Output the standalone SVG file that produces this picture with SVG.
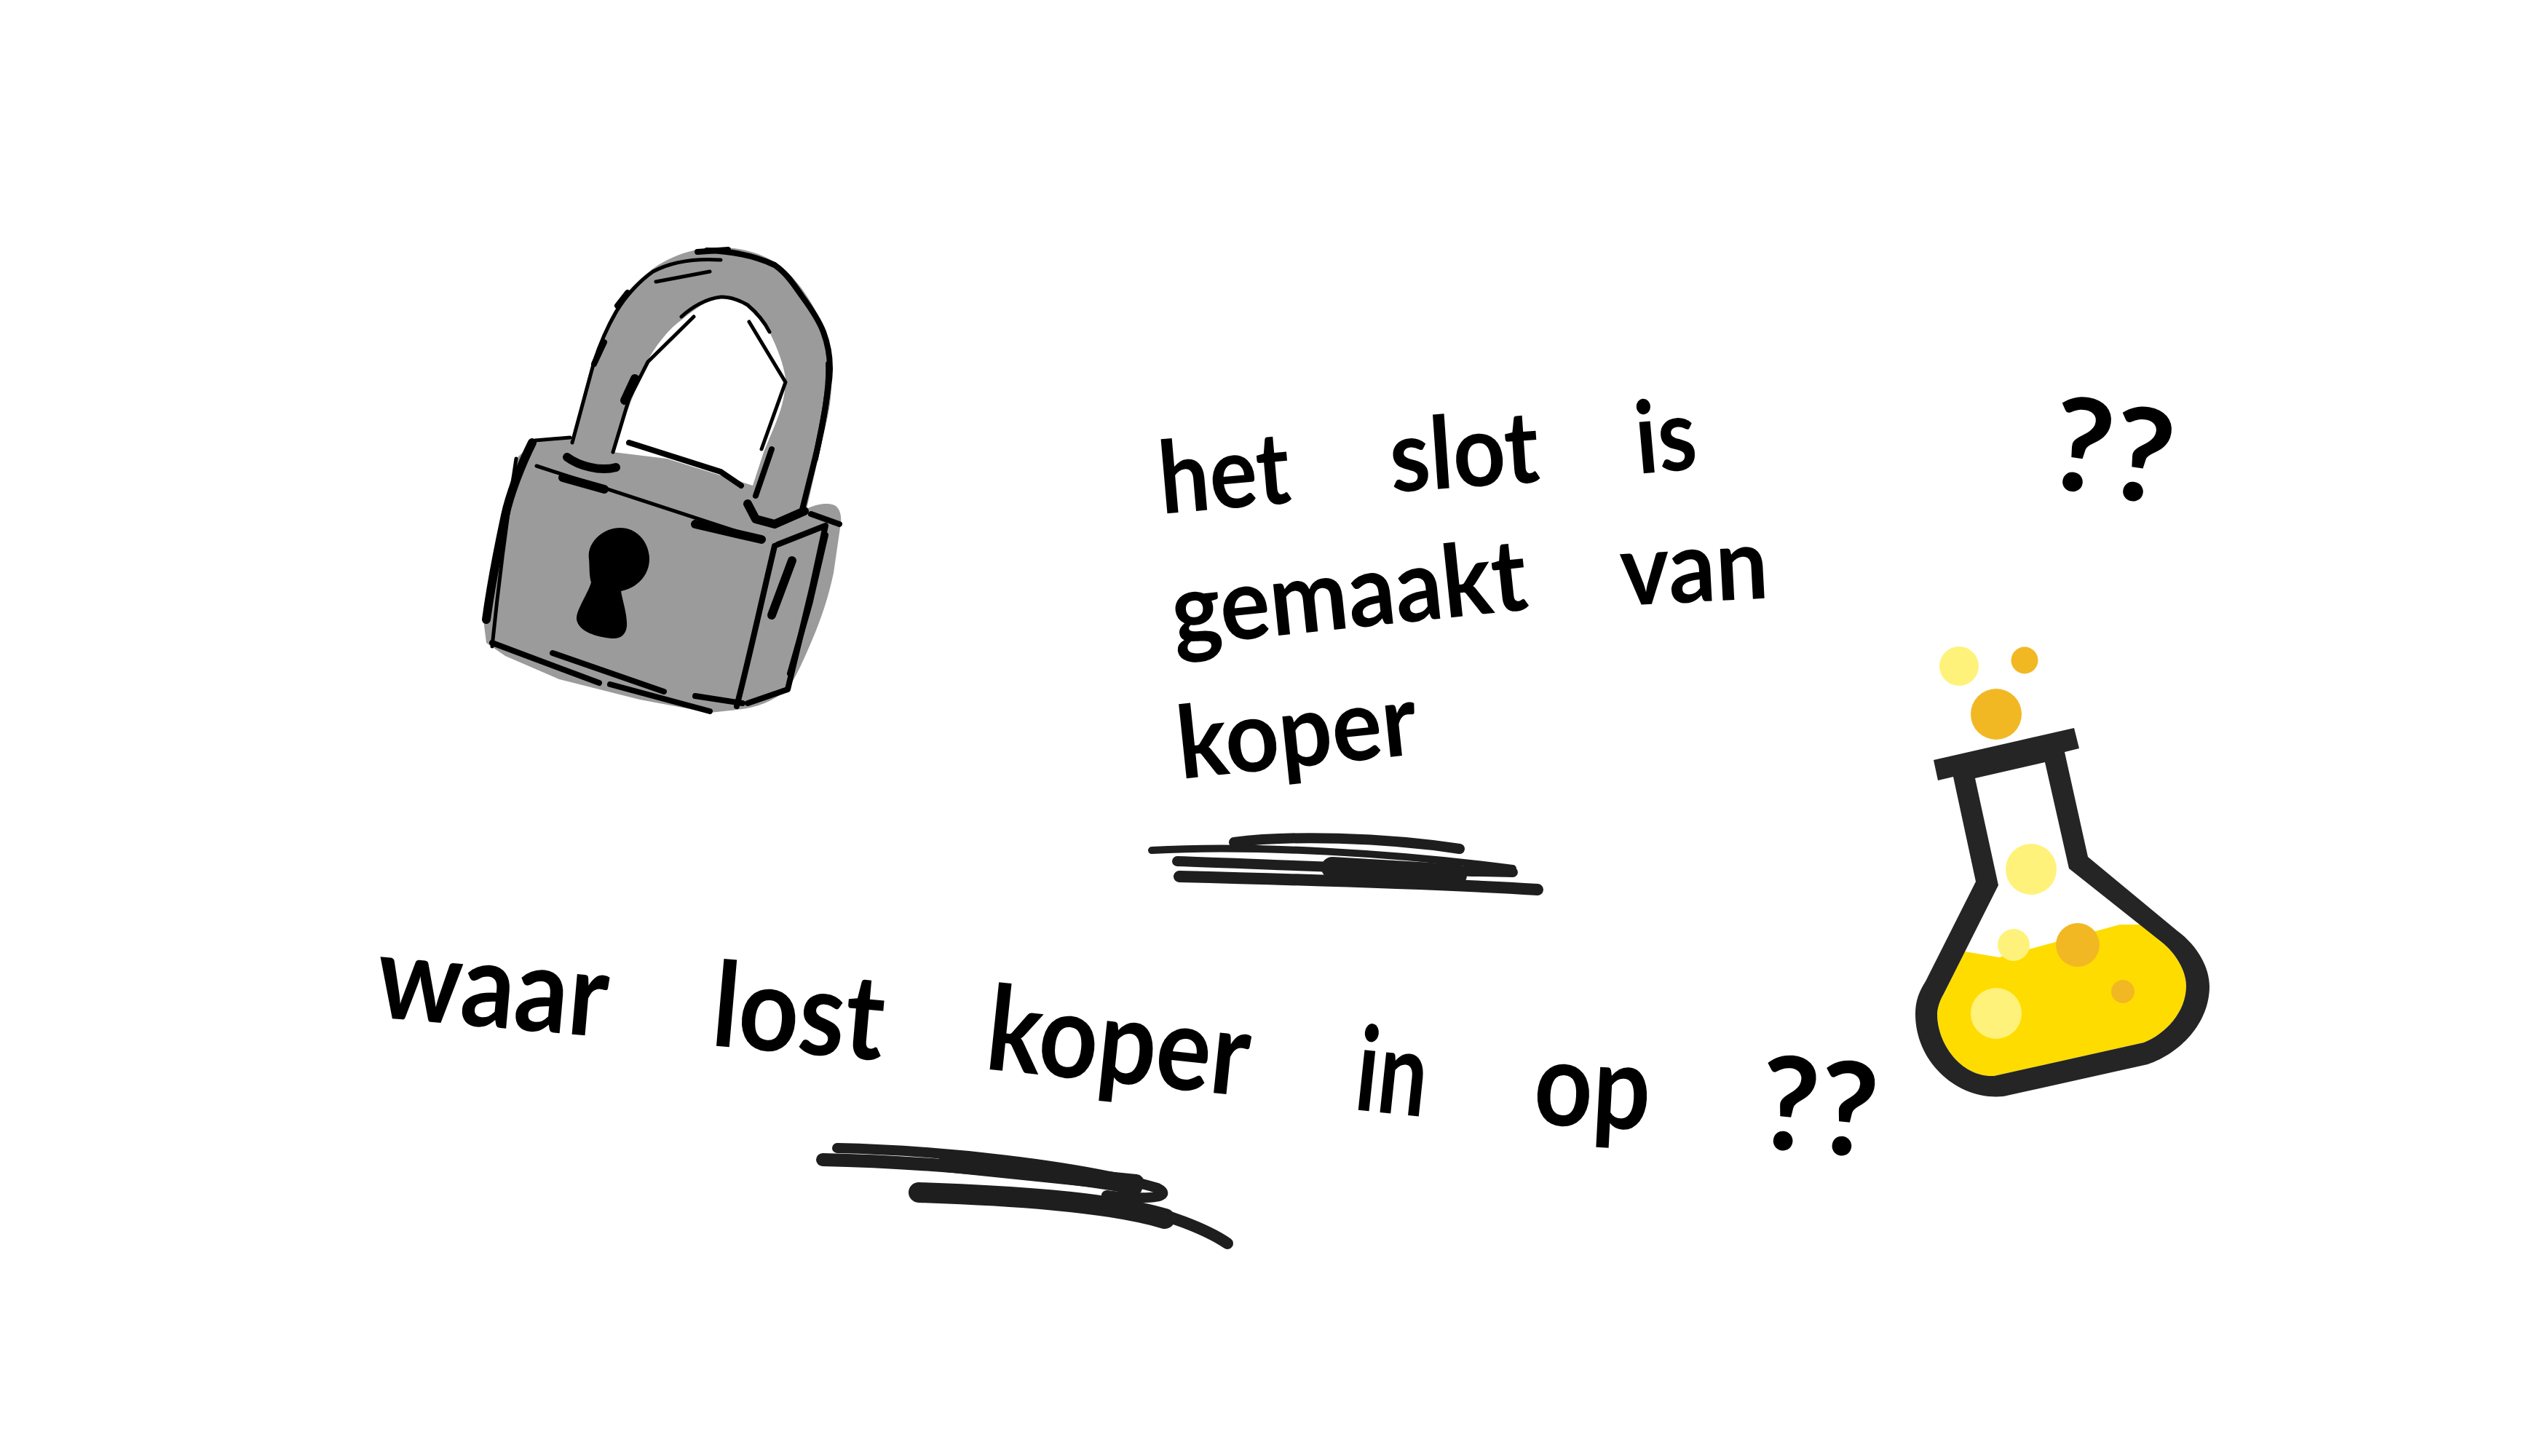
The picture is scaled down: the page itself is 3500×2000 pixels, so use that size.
<svg xmlns="http://www.w3.org/2000/svg" width="3500" height="2000" viewBox="0 0 3500 2000">
<style>
.w{font-family:"Lato","Open Sans",sans-serif;font-weight:700;fill:#000;font-size:138px}
.b{font-size:162px}
.q{font-size:178px}
.s{fill:none;stroke:#000;stroke-linecap:round;stroke-linejoin:round}
.t{stroke-width:5}.m{stroke-width:8}.h{stroke-width:12}
.sc{fill:none;stroke:#1e1e1e;stroke-linecap:round;stroke-linejoin:round}
.lt{fill:#fff27a}.or{fill:#f2b824}
</style>
<rect width="3500" height="2000" fill="#fff"/>
<g id="lock">
<path fill="#9b9b9b" fill-rule="evenodd" d="M735 605L783 601L786 608C795 570 803 530 816 493C825 465 835 440 849 419C862 398 880 382 897 369C915 356 935 348 953 344C970 341 990 339 1008 341C1030 344 1048 350 1064 360C1080 370 1090 382 1101 396C1113 412 1124 432 1131 451C1138 472 1141 498 1142 520C1143 548 1137 574 1131 598L1108 699C1125 690 1145 690 1150 697C1157 705 1155 718 1155 718L1145 787C1138 820 1128 850 1116 878C1106 902 1095 927 1082 947C1060 965 1035 973 1012 975L975 979L879 961L768 933L694 901L668 883L664 851L683 736L709 630ZM842 621L861 566L886 502C900 475 918 452 938 438C955 424 972 412 990 408C1002 407 1013 410 1023 415C1038 425 1049 440 1057 456C1067 477 1076 498 1079 520C1079 545 1072 566 1064 585L1049 621L1034 667L990 653L916 630Z"/>
<path fill="#000" d="M809 768C806 745 828 725 852 725C875 725 892 745 892 768C892 790 875 808 853 812C855 825 862 845 861 860C860 872 852 878 840 877C820 875 795 868 792 851C791 838 808 815 812 800C809 790 810 778 809 768Z"/>
<path class="s t" d="M737 640L1046 741"/>
<path class="s h" d="M773 656L830 672M955 720L1046 741"/>
<path class="s m" d="M864 608L990 648L1018 667"/>
<path class="s h" d="M731 608C715 640 700 680 694 708C685 750 675 800 668 851"/>
<path class="s t" d="M735 605L783 601M709 630C695 720 685 800 676 888"/>
<path class="s m" d="M676 883L823 938M759 897L912 950M838 940L975 977M955 956L1020 966"/>
<path class="s m" d="M1064 750C1045 830 1030 900 1012 970"/>
<path class="s m" d="M1068 748L1134 722L1116 805L1082 947L1027 966"/>
<path class="s m" d="M1134 735L1112 830L1085 925"/>
<path class="s h" d="M1088 770L1060 845"/>
<path class="s m" d="M1114 706L1153 720"/>
<path class="s h" d="M779 628C795 640 825 648 846 642"/>
<path class="s t" d="M786 608L816 497C825 470 835 448 846 429C860 405 880 385 897 373C925 358 960 355 990 357"/>
<path class="s t" d="M901 387L975 373"/>
<path class="s m" d="M816 500L830 470M848 420L862 402M958 346L1000 343"/>
<path class="s m" d="M971 344C1010 345 1040 353 1064 364C1080 375 1090 390 1101 406C1115 425 1125 440 1131 456C1140 480 1142 505 1138 530C1133 570 1125 610 1116 644L1101 704"/>
<path class="s m" d="M1138 500C1140 540 1128 590 1120 630"/>
<path class="s h" d="M1027 692L1038 713L1064 720L1105 702"/>
<path class="s t" d="M842 621L864 548"/>
<path class="s h" d="M858 550L872 520"/>
<path class="s t" d="M864 548L890 497L953 435"/>
<path class="s t" d="M936 435C950 422 970 410 990 408C1003 407 1015 412 1027 419C1040 430 1050 442 1057 456"/>
<path class="s t" d="M1029 442L1079 525L1046 617"/>
<path class="s m" d="M1060 617L1038 681"/>
</g>
<g id="flask">
<path fill="#ffdc00" d="M2699 1307L2746 1315L2912 1270L2941 1270L2968 1293C2990 1310 3003 1335 3003 1354C3003 1390 2975 1420 2945 1432L2739 1478C2695 1480 2661 1435 2661 1393C2661 1385 2665 1373 2670 1365Z"/>
<path fill="#252525" fill-rule="evenodd" d="M2656 1044L2849 1000L2856 1028L2836 1033L2868 1177L2990 1278C3020 1300 3035 1330 3035 1355C3035 1405 2995 1447 2950 1462L2752 1506C2690 1512 2631 1460 2631 1393C2631 1375 2636 1362 2645 1348L2714 1211L2683 1067L2662 1072ZM2713 1069L2809 1047L2842 1193L2968 1293C2990 1310 3003 1335 3003 1354C3003 1390 2975 1420 2945 1432L2739 1478C2695 1480 2661 1435 2661 1393C2661 1385 2665 1373 2670 1365L2745 1216Z"/>
<ellipse class="lt" cx="2691" cy="915" rx="27" ry="27"/>
<ellipse class="or" cx="2781" cy="907" rx="18.500" ry="18.500"/>
<ellipse class="or" cx="2742" cy="981" rx="35" ry="35"/>
<ellipse class="lt" cx="2790" cy="1194" rx="35" ry="35"/>
<ellipse class="lt" cx="2766" cy="1298" rx="22" ry="22"/>
<ellipse class="or" cx="2854" cy="1298" rx="30" ry="30"/>
<ellipse class="or" cx="2916" cy="1362" rx="16" ry="16"/>
<ellipse class="lt" cx="2742" cy="1392" rx="35" ry="35"/>
</g>
<g id="scribble-top">
<path class="sc" stroke-width="14" d="M1695 1157C1770 1147 1900 1150 2005 1166"/>
<path class="sc" stroke-width="10" d="M1582 1168C1720 1160 1920 1172 2078 1193"/>
<path class="sc" stroke-width="14" d="M1617 1183C1760 1188 1950 1196 2078 1198"/>
<path class="sc" stroke-width="16" d="M1620 1204C1780 1208 1980 1214 2112 1222"/>
<path class="sc" stroke-width="30" d="M1830 1192L2000 1202"/>
</g>
<g id="scribble-bottom">
<path class="sc" stroke-width="14" d="M1150 1577C1290 1580 1480 1600 1590 1632C1610 1642 1590 1650 1520 1642"/>
<path class="sc" stroke-width="18" d="M1130 1593C1270 1596 1450 1612 1560 1632"/>
<path class="sc" stroke-width="28" d="M1262 1638C1380 1642 1520 1650 1600 1674"/>
<path class="sc" stroke-width="16" d="M1540 1655C1600 1665 1660 1690 1686 1708"/>
<path class="sc" stroke-width="24" d="M1300 1598L1560 1625"/>
</g>
<g id="text-top">
<text class="w" transform="translate(1596 706) rotate(-5)" textLength="180" lengthAdjust="spacingAndGlyphs">het</text>
<text class="w" transform="translate(1912 676) rotate(-4)" textLength="205" lengthAdjust="spacingAndGlyphs">slot</text>
<text class="w" transform="translate(2250 651) rotate(-5)" textLength="84" lengthAdjust="spacingAndGlyphs">is</text>
<text class="w q" transform="translate(2808 668) rotate(9)" textLength="168" lengthAdjust="spacingAndGlyphs">??</text>
<text class="w" transform="translate(1614 888) rotate(-6)" textLength="490" lengthAdjust="spacingAndGlyphs">gemaakt</text>
<text class="w" transform="translate(2228 832) rotate(-3)" textLength="203" lengthAdjust="spacingAndGlyphs">van</text>
<text class="w" transform="translate(1622 1070) rotate(-6)" textLength="330" lengthAdjust="spacingAndGlyphs">koper</text>
</g>
<g id="text-bottom">
<text class="w b" transform="translate(514 1397) rotate(5)" textLength="318" lengthAdjust="spacingAndGlyphs">waar</text>
<text class="w b" transform="translate(975 1436) rotate(5)" textLength="236" lengthAdjust="spacingAndGlyphs">lost</text>
<text class="w b" transform="translate(1351 1468) rotate(6)" textLength="362" lengthAdjust="spacingAndGlyphs">koper</text>
<text class="w b" transform="translate(1858 1524) rotate(6)" textLength="98" lengthAdjust="spacingAndGlyphs">in</text>
<text class="w b" transform="translate(2105 1544) rotate(3)" textLength="160" lengthAdjust="spacingAndGlyphs">op</text>
<text class="w q" transform="translate(2412 1576) rotate(5)" textLength="162" lengthAdjust="spacingAndGlyphs">??</text>
</g>
</svg>
